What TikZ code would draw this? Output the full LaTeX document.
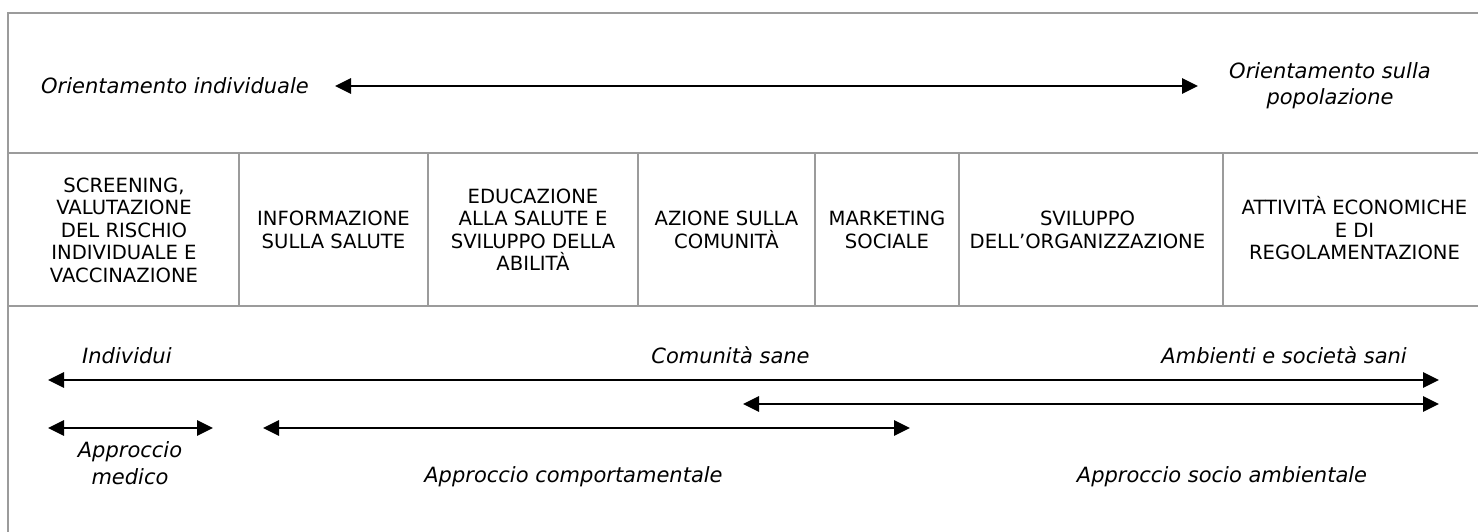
\documentclass[tikz,border=0pt]{standalone}
\usepackage{fontspec}
\setmainfont{DejaVu Sans}
\usetikzlibrary{arrows.meta}
\definecolor{framegray}{RGB}{155,155,155}

\begin{document}
\begin{tikzpicture}[x=1pt, y=-1pt,
		frame/.style = {framegray, line width=2pt},
		cell/.style = {align=center, inner sep=0pt, font=\fontsize{19.6}{22.5}\selectfont},
		lbl/.style = {align=center, inner sep=0pt, font=\fontsize{21}{26.5}\selectfont\itshape},
		span/.style = {line width=2.8pt, {Triangle[length=16pt,width=15pt]}-{Triangle[length=16pt,width=15pt]}}]
		\useasboundingbox (0,0) rectangle (1478,531);

		% frame and table
		\draw [frame] (1478,13) -- (8,13) -- (8,540);
		\draw [frame] (8,153) -- (1478,153);
		\draw [frame] (8,306) -- (1478,306);
		\foreach \x in {239,428,638,815,959,1223}
		{
			\draw [frame] (\x,153) -- (\x,306);
		}

		% top row
		\node [lbl, anchor=base west] (orind) at (41,93) {Orientamento individuale};
		\node [lbl, anchor=base] (orpop) at (1330,104.5) {Orientamento sulla\\popolazione};
		\coordinate (or-l) at (335,86);
		\coordinate (or-r) at (1198,86);
		\draw [span] (or-l) -- (or-r);

		% middle row (base = last line)
		\node [cell, anchor=base] (screen) at (124,282.2) {SCREENING,\\VALUTAZIONE\\DEL RISCHIO\\INDIVIDUALE E\\VACCINAZIONE};
		\node [cell, anchor=base] (inform) at (333.5,248.4) {INFORMAZIONE\\SULLA SALUTE};
		\node [cell, anchor=base] (educ) at (533,270.9) {EDUCAZIONE\\ALLA SALUTE E\\SVILUPPO DELLA\\ABILITÀ};
		\node [cell, anchor=base] (azione) at (726.5,248.4) {AZIONE SULLA\\COMUNITÀ};
		\node [cell, anchor=base] (market) at (887,248.4) {MARKETING\\SOCIALE};
		\node [cell, anchor=base] (svil) at (1087.5,248.4) {SVILUPPO\\DELL’ORGANIZZAZIONE};
		\node [cell, anchor=base] (attiv) at (1354.5,259.7) {ATTIVITÀ ECONOMICHE\\E DI\\REGOLAMENTAZIONE};

		% bottom row
		\node [lbl, anchor=base west] (indiv) at (82,363) {Individui};
		\node [lbl, anchor=base] (comun) at (730.5,363) {Comunità sane};
		\node [lbl, anchor=base east] (ambie) at (1407,363) {Ambienti e società sani};
		\node [lbl, anchor=base] (medico) at (130,484) {Approccio\\medico};
		\node [lbl, anchor=base] (compor) at (573.5,482.5) {Approccio comportamentale};
		\node [lbl, anchor=base] (socio) at (1222,482.5) {Approccio socio ambientale};

		\coordinate (ind-l) at (48,380);
		\coordinate (amb-r) at (1439,380);
		\coordinate (soc-l) at (743,404);
		\coordinate (soc-r) at (1439,404);
		\coordinate (med-l) at (48,428);
		\coordinate (med-r) at (213,428);
		\coordinate (com-l) at (263,428);
		\coordinate (com-r) at (910,428);
		\draw [span] (ind-l) -- (amb-r);
		\draw [span] (soc-l) -- (soc-r);
		\draw [span] (med-l) -- (med-r);
		\draw [span] (com-l) -- (com-r);
	\end{tikzpicture}
\end{document}
